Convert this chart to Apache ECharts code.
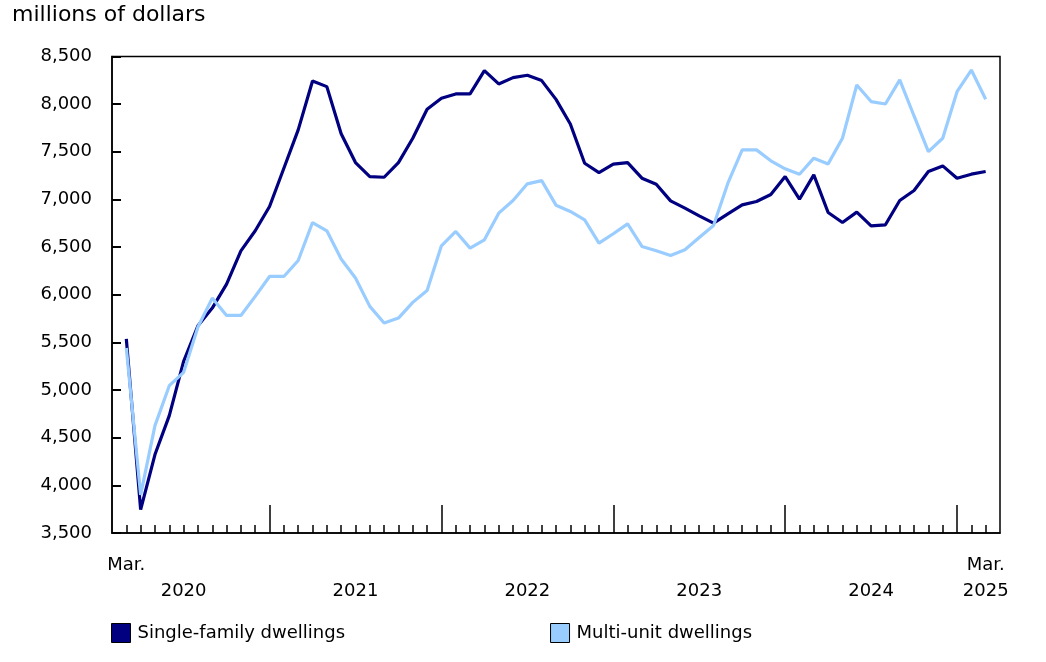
<!DOCTYPE html>
<html>
<head>
<meta charset="utf-8">
<script src="https://cdn.jsdelivr.net/npm/echarts@6/dist/echarts.min.js"></script>
<style>
  html, body { margin: 0; padding: 0; background: #fff; }
  #chart { width: 1046px; height: 662px; }
</style>
</head>
<body>
<div id="chart"></div>
<script>
// monthly, Mar. 2020 to Mar. 2025 (index 0 = Mar. 2020)
var singleFamily = [5536, 3746, 4323, 4732, 5301, 5675, 5860, 6112, 6461, 6671,
  6926, 7328, 7730, 8243, 8184, 7690, 7387, 7240, 7233, 7387, 7642, 7946,
  8061, 8107, 8107, 8351, 8212, 8278, 8303, 8247, 8050, 7792, 7380, 7282,
  7370, 7387, 7223, 7160, 6985, 6909, 6828, 6751, 6849, 6943, 6978, 7052,
  7240, 7003, 7258, 6863, 6758, 6867, 6723, 6734, 6989, 7094, 7293, 7352,
  7223, 7265, 7293];
var multiUnit = [5441, 3900, 4627, 5046, 5186, 5661, 5965, 5783, 5783, 5983,
  6192, 6192, 6360, 6758, 6671, 6375, 6175, 5878, 5703, 5755, 5920, 6045,
  6514, 6664, 6489, 6577, 6856, 6989, 7164, 7198, 6940, 6874, 6786, 6542,
  6640, 6744, 6507, 6461, 6412, 6472, 6601, 6727, 7171, 7520, 7520, 7405,
  7321, 7265, 7433, 7373, 7642, 8201, 8027, 8002, 8254, 7876, 7502, 7642,
  8131, 8358, 8051];

// x tick labels (month index -> text)
var xLabelPos = [0, 4, 16, 28, 40, 52, 60];
var xLabelText = ['Mar.', '\n2020', '\n2021', '\n2022', '\n2023', '\n2024', 'Mar.\n2025'];
// January positions get the long ticks
var yearTickPos = [10, 22, 34, 46, 58];

var seriesNames = ['Single-family dwellings', 'Multi-unit dwellings'];
var seriesColors = ['#000080', '#99ccff'];

var FONT = 'Verdana, "DejaVu Sans", sans-serif';

var monthTicks = singleFamily.map(function (v, i) { return i; });

function toPoints(arr) {
  return arr.map(function (v, i) { return [i, v]; });
}

var chart = echarts.init(document.getElementById('chart'));

chart.setOption({
  animation: false,
  textStyle: { fontFamily: FONT, color: '#000' },
  title: {
    text: 'millions of dollars',
    left: 7,
    top: -1,
    textStyle: { fontFamily: FONT, fontSize: 22, fontWeight: 'normal', color: '#000' }
  },
  legend: {
    left: 111,
    top: 623,
    padding: 0,
    icon: 'rect',
    itemWidth: 19,
    itemHeight: 19,
    itemGap: 205,
    itemStyle: { borderColor: '#000', borderWidth: 1 },
    textStyle: { fontFamily: FONT, fontSize: 18, color: '#000', padding: [0, 0, 0, 2] },
    data: seriesNames
  },
  grid: {
    left: 112,
    right: 46,
    top: 56.5,
    bottom: 129,
    show: true,
    borderColor: '#000',
    borderWidth: 1.5,
    backgroundColor: 'transparent'
  },
  xAxis: [{
    type: 'value',
    min: -1,
    max: 61,
    axisLine: { show: true, onZero: false, lineStyle: { color: '#000', width: 1.5 } },
    axisTick: {
      show: true, inside: true, length: 8,
      customValues: monthTicks,
      lineStyle: { color: '#000', width: 1.5 }
    },
    axisLabel: {
      show: true,
      customValues: xLabelPos,
      margin: 19,
      fontFamily: FONT,
      fontSize: 18,
      lineHeight: 26,
      color: '#000',
      formatter: function (v) {
        var k = xLabelPos.indexOf(v);
        return k >= 0 ? xLabelText[k] : '';
      }
    },
    splitLine: { show: false }
  }, {
    type: 'value',
    position: 'bottom',
    min: -1,
    max: 61,
    axisLine: { show: false, onZero: false },
    axisTick: {
      show: true, inside: true, length: 28,
      customValues: yearTickPos,
      lineStyle: { color: '#000', width: 1.5 }
    },
    axisLabel: { show: false },
    splitLine: { show: false }
  }],
  yAxis: {
    type: 'value',
    position: 'left',
    min: 3500,
    max: 8500,
    interval: 500,
    axisLine: { show: true, onZero: false, lineStyle: { color: '#000', width: 1.5 } },
    axisTick: {
      show: true, inside: true, length: 9,
      lineStyle: { color: '#000', width: 2 }
    },
    axisLabel: {
      margin: 20,
      padding: [5, 0, 0, 0],
      fontFamily: FONT,
      fontSize: 18,
      color: '#000',
      formatter: function (v) { return v.toLocaleString('en-US'); }
    },
    splitLine: { show: false }
  },
  series: [{
    name: seriesNames[0],
    type: 'line',
    xAxisIndex: 0,
    symbol: 'none',
    data: toPoints(singleFamily),
    itemStyle: { color: seriesColors[0] },
    lineStyle: { color: seriesColors[0], width: 3.2 }
  }, {
    name: seriesNames[1],
    type: 'line',
    xAxisIndex: 0,
    symbol: 'none',
    data: toPoints(multiUnit),
    itemStyle: { color: seriesColors[1] },
    lineStyle: { color: seriesColors[1], width: 3.2 }
  }]
});
</script>
</body>
</html>
